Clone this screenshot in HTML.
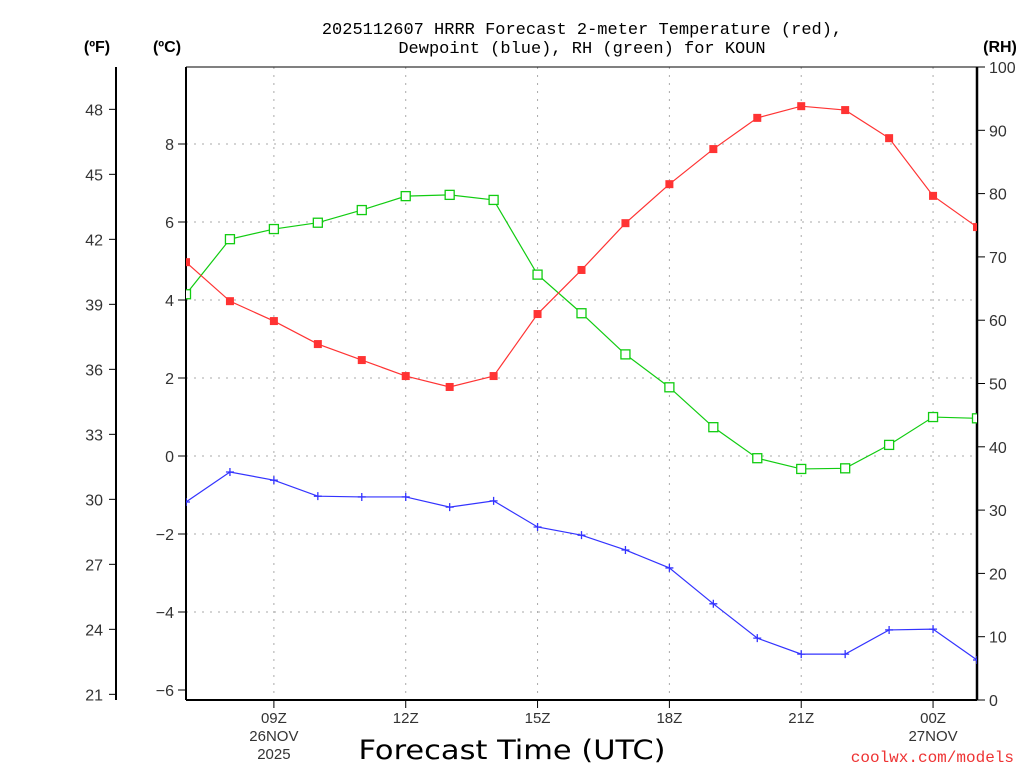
<!DOCTYPE html>
<html><head><meta charset="utf-8"><style>
body{margin:0;background:#fff;width:1024px;height:768px;overflow:hidden}
text{font-family:"Liberation Sans",sans-serif}
</style></head><body>
<svg id="c" width="1024" height="768"></svg>
<script>
const hours=[7,8,9,10,11,12,13,14,15,16,17,18,19,20,21,22,23,24,25];
const tempC=[4.97,3.97,3.46,2.87,2.46,2.05,1.77,2.05,3.64,4.77,5.97,6.97,7.87,8.67,8.97,8.87,8.15,6.67,5.87];
const dewC=[-1.18,-0.41,-0.62,-1.03,-1.05,-1.05,-1.31,-1.15,-1.82,-2.03,-2.41,-2.87,-3.79,-4.67,-5.08,-5.08,-4.46,-4.44,-5.23];
const rh=[64.1,72.8,74.4,75.4,77.4,79.6,79.8,79.0,67.2,61.1,54.6,49.4,43.1,38.2,36.5,36.6,40.3,44.7,44.5];
const cTicks=[-6,-4,-2,0,2,4,6,8];
const fTicks=[21,24,27,30,33,36,39,42,45,48];
const rhTicks=[0,10,20,30,40,50,60,70,80,90,100];
const xTickHours=[9,12,15,18,21,24];
const xTickLabels=["09Z","12Z","15Z","18Z","21Z","00Z"];

const L=186,R=977,T=67,B=700;
const X=h=>L+(h-7)*(R-L)/18;
const YC=c=>456-c*39;
const YF=f=>YC((f-32)/1.8);
const YR=r=>B-r*(B-T)/100;
const svg=document.getElementById('c');
const NS='http://www.w3.org/2000/svg';
function el(tag,attrs,parent){const e=document.createElementNS(NS,tag);for(const k in attrs)e.setAttribute(k,attrs[k]);(parent||svg).appendChild(e);return e;}
function tx(x,y,s,anchor,size,fill,fam){const t=el('text',{x:x,y:y,'text-anchor':anchor||'middle','font-size':size||16,fill:fill||'#000'});if(fam)t.setAttribute('style','font-family:'+fam);t.textContent=s;return t;}

const defs=el('defs',{});
const cp=el('clipPath',{id:'clip'},defs);el('rect',{x:L,y:T,width:R-L,height:B-T},cp);

const grid=el('g',{});


cTicks.forEach(c=>{if(c>-6)el('line',{x1:L,x2:R,y1:YC(c),y2:YC(c),stroke:'#aaa','stroke-dasharray':'2,6'},grid);});
xTickHours.forEach(h=>el('line',{x1:X(h),x2:X(h),y1:T,y2:B,stroke:'#aaa','stroke-dasharray':'2,6'},grid));

el('line',{x1:L,x2:L,y1:T,y2:B,stroke:'#000','stroke-width':2});
el('line',{x1:L,x2:R,y1:B,y2:B,stroke:'#000','stroke-width':2});
el('line',{x1:L,x2:R,y1:T,y2:T,stroke:'#000','stroke-width':1});
el('line',{x1:R,x2:R,y1:T,y2:B,stroke:'#000','stroke-width':2.5});
el('line',{x1:116,x2:116,y1:T,y2:B,stroke:'#000','stroke-width':2});

cTicks.forEach(c=>{el('line',{x1:L-8,x2:L,y1:YC(c),y2:YC(c),stroke:'#000'});
 const t=tx(L-12,YC(c)+6,(c<0?'\u2212'+(-c):''+c),'end',16,'#333');
 });
fTicks.forEach(f=>{el('line',{x1:109,x2:116,y1:YF(f),y2:YF(f),stroke:'#000'});
 const t=tx(103,YF(f)+6,''+f,'end',16,'#333');
 });
rhTicks.forEach(r=>{el('line',{x1:R,x2:R+8,y1:YR(r),y2:YR(r),stroke:'#000'});
 const t=tx(989,YR(r)+6,''+r,'start',16,'#333');
 });
xTickHours.forEach((h,i)=>{el('line',{x1:X(h),x2:X(h),y1:B,y2:B+8,stroke:'#000'});
 const t=tx(X(h),B+23,xTickLabels[i],'middle',15,'#333');
 });
tx(X(9),B+41,'26NOV','middle',15,'#333');tx(X(9),B+59,'2025','middle',15,'#333');
tx(X(24),B+41,'27NOV','middle',15,'#333');

let u=tx(97,52,'(\u00baF)','middle',16,'#000');u.setAttribute('font-weight','bold');
u=tx(167,52,'(\u00baC)','middle',16,'#000');u.setAttribute('font-weight','bold');
u=tx(1000,52,'(RH)','middle',16,'#000');u.setAttribute('font-weight','bold');

let t1=tx(582,34,'2025112607 HRRR Forecast 2-meter Temperature (red),','middle',17,'#000','"Liberation Mono",monospace');

let t2=tx(582,53,'Dewpoint (blue), RH (green) for KOUN','middle',17,'#000','"Liberation Mono",monospace');

let xt=tx(512,759,'Forecast Time (UTC)','middle',27,'#000','"DejaVu Sans",sans-serif');
xt.setAttribute('textLength','307');xt.setAttribute('lengthAdjust','spacingAndGlyphs');

let wm=tx(1014,762,'coolwx.com/models','end',16,'#e33','"Liberation Mono",monospace');


const plot=el('g',{'clip-path':'url(#clip)'});
function series(vals,yf,color,marker,name){
 const g=el('g',{},plot);
 
 
 el('polyline',{points:vals.map((v,i)=>X(hours[i])+','+yf(v)).join(' '),fill:'none',stroke:color,'stroke-width':1.2},g);
 vals.forEach((v,i)=>{const x=X(hours[i]),y=yf(v);let m;
  if(marker==='fill')m=el('rect',{x:x-4,y:y-4,width:8,height:8,fill:color},g);
  else if(marker==='open')m=el('rect',{x:x-4.5,y:y-4.5,width:9,height:9,fill:'#fff',stroke:color,'stroke-width':1.3},g);
  else{m=el('path',{d:`M${x-4},${y}H${x+4}M${x},${y-4}V${y+4}`,stroke:color,'stroke-width':1.3},g);}
  
  });
}
series(rh,YR,'#1c1','open','rh-series');
series(tempC,YC,'#f33','fill','temperature-series');
series(dewC,YC,'#33f','plus','dewpoint-series');
</script>
</body></html>
